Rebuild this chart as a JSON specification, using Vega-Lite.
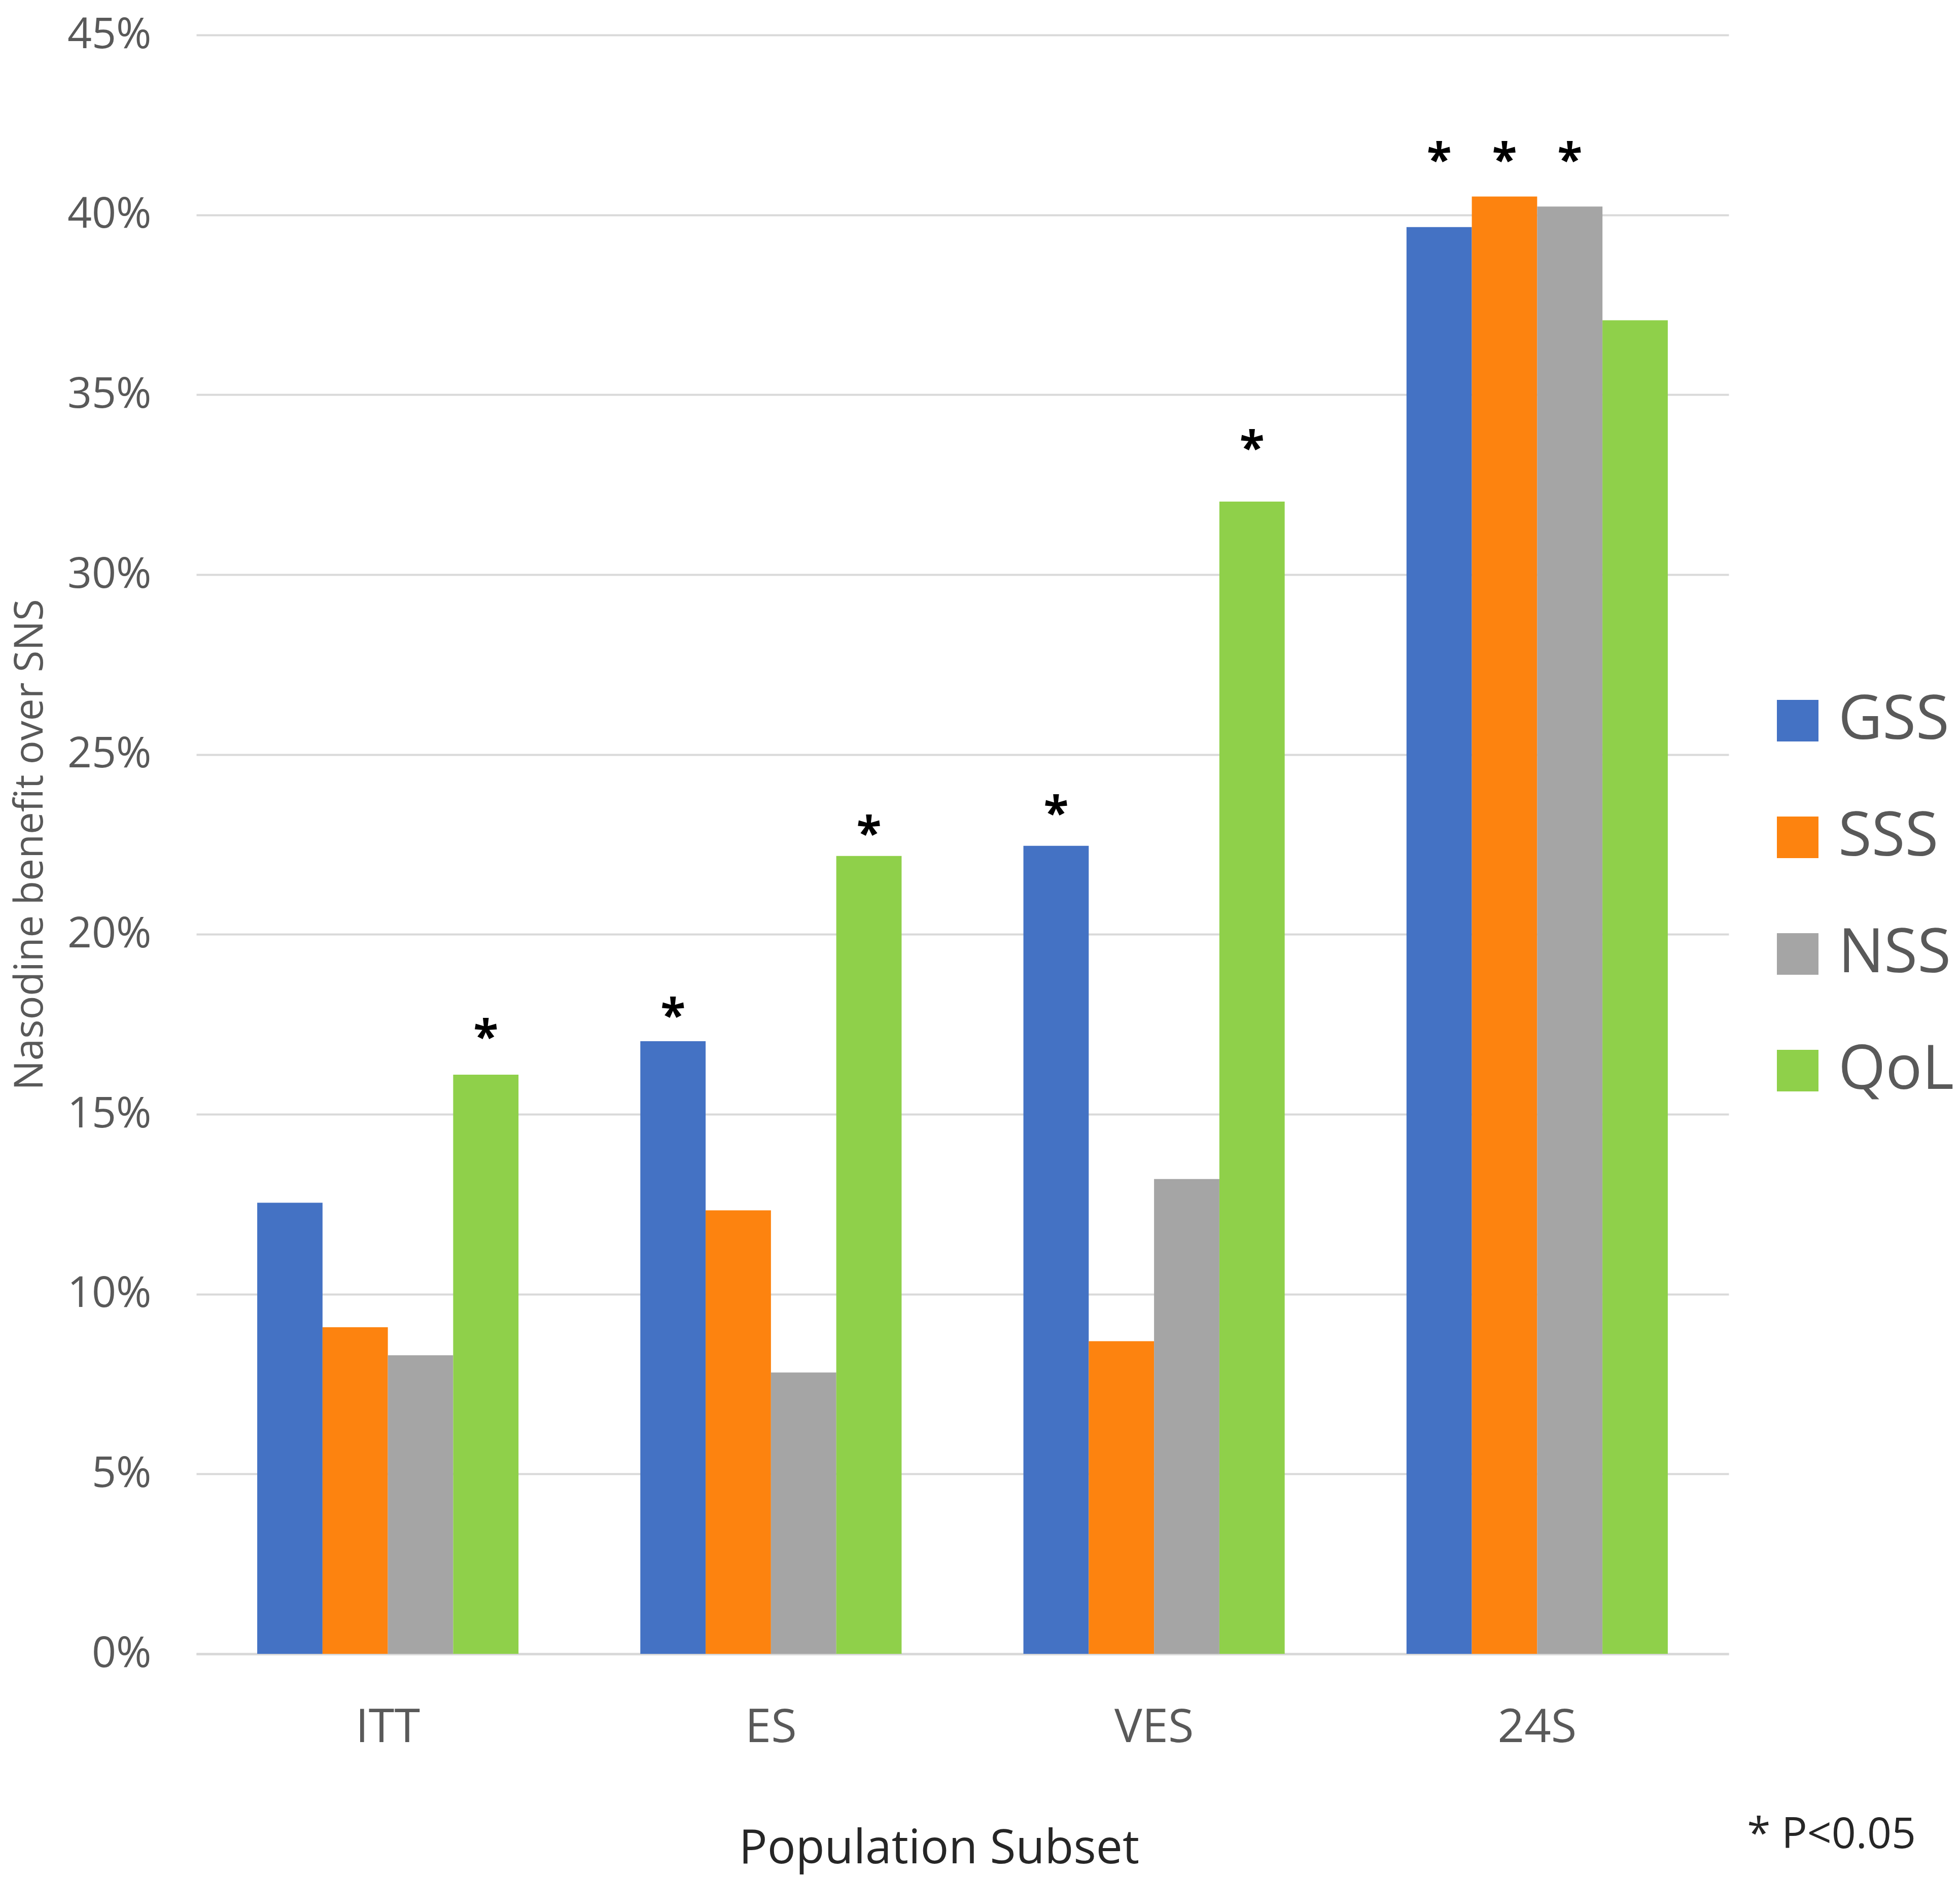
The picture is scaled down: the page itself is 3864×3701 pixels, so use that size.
{
  "$schema": "https://vega.github.io/schema/vega-lite/v6.json",
  "autosize": "none",
  "width": 3021,
  "height": 3192,
  "padding": {"left": 387, "top": 69, "right": 456, "bottom": 440},
  "background": "white",
  "title": {
    "text": "* P<0.05",
    "orient": "bottom",
    "anchor": "end",
    "frame": "group",
    "font": "Open Sans",
    "fontSize": 84,
    "fontWeight": "normal",
    "color": "#262626",
    "dx": 369,
    "offset": -114
  },
  "data": {
    "values": [
      {"subset": "ITT", "measure": "GSS", "benefit": 0.1254, "sig": "", "star_y": null},
      {"subset": "ITT", "measure": "SSS", "benefit": 0.0908, "sig": "", "star_y": null},
      {"subset": "ITT", "measure": "NSS", "benefit": 0.0830, "sig": "", "star_y": null},
      {"subset": "ITT", "measure": "QoL", "benefit": 0.1610, "sig": "*", "star_y": 0.1731},
      {"subset": "ES", "measure": "GSS", "benefit": 0.1703, "sig": "*", "star_y": 0.1791},
      {"subset": "ES", "measure": "SSS", "benefit": 0.1233, "sig": "", "star_y": null},
      {"subset": "ES", "measure": "NSS", "benefit": 0.0782, "sig": "", "star_y": null},
      {"subset": "ES", "measure": "QoL", "benefit": 0.2218, "sig": "*", "star_y": 0.2297},
      {"subset": "VES", "measure": "GSS", "benefit": 0.2246, "sig": "*", "star_y": 0.2353},
      {"subset": "VES", "measure": "SSS", "benefit": 0.0869, "sig": "", "star_y": null},
      {"subset": "VES", "measure": "NSS", "benefit": 0.1320, "sig": "", "star_y": null},
      {"subset": "VES", "measure": "QoL", "benefit": 0.3203, "sig": "*", "star_y": 0.3368},
      {"subset": "24S", "measure": "GSS", "benefit": 0.3966, "sig": "*", "star_y": 0.4168},
      {"subset": "24S", "measure": "SSS", "benefit": 0.4051, "sig": "*", "star_y": 0.4168},
      {"subset": "24S", "measure": "NSS", "benefit": 0.4023, "sig": "*", "star_y": 0.4168},
      {"subset": "24S", "measure": "QoL", "benefit": 0.3707, "sig": "", "star_y": null}
    ]
  },
  "encoding": {
    "x": {
      "field": "subset",
      "type": "nominal",
      "sort": ["ITT", "ES", "VES", "24S"],
      "scale": {"paddingInner": 0.318, "paddingOuter": 0.159},
      "title": "Population Subset",
      "axis": {
        "labelAngle": 0,
        "ticks": false,
        "labelPadding": 100,
        "labelFont": "Open Sans",
        "labelFontSize": 92,
        "labelColor": "#595959",
        "domainColor": "#D9D9D9",
        "domainWidth": 5,
        "titleFont": "Open Sans",
        "titleFontSize": 93,
        "titleFontWeight": "normal",
        "titleColor": "#262626",
        "titleX": 1464,
        "titleY": 384,
        "titleBaseline": "middle"
      }
    },
    "xOffset": {
      "field": "measure",
      "type": "nominal",
      "sort": ["GSS", "SSS", "NSS", "QoL"],
      "scale": {"paddingInner": 0, "paddingOuter": 0}
    }
  },
  "layer": [
    {
      "mark": {"type": "bar"},
      "encoding": {
        "y": {
          "field": "benefit",
          "type": "quantitative",
          "scale": {"domain": [0, 0.45], "nice": false},
          "title": "Nasodine benefit over SNS",
          "axis": {
            "format": ".0%",
            "values": [0, 0.05, 0.1, 0.15, 0.2, 0.25, 0.3, 0.35, 0.4, 0.45],
            "ticks": false,
            "domain": false,
            "grid": true,
            "gridColor": "#D9D9D9",
            "gridWidth": 4,
            "labelPadding": 89,
            "labelFont": "Open Sans",
            "labelFontSize": 84,
            "labelColor": "#595959",
            "titleFont": "Open Sans",
            "titleFontSize": 78,
            "titleFontWeight": "normal",
            "titleColor": "#595959",
            "titleAngle": -90,
            "titleX": -327,
            "titleY": 1596,
            "titleAlign": "center",
            "titleBaseline": "middle"
          }
        },
        "color": {
          "field": "measure",
          "type": "nominal",
          "scale": {
            "domain": ["GSS", "SSS", "NSS", "QoL"],
            "range": ["#4472C4", "#FD830F", "#A5A5A5", "#8FD04A"]
          },
          "legend": {
            "title": null,
            "orient": "none",
            "legendX": 3097,
            "legendY": 1292,
            "symbolType": "square",
            "symbolSize": 6724,
            "symbolStrokeWidth": 0,
            "symbolOpacity": 1,
            "rowPadding": 110,
            "labelOffset": 20,
            "labelLimit": 600,
            "labelFont": "Open Sans",
            "labelFontSize": 120,
            "labelColor": "#595959"
          }
        }
      }
    },
    {
      "transform": [{"filter": "datum.star_y != null"}],
      "mark": {
        "type": "text",
        "font": "Open Sans",
        "fontSize": 90,
        "fontWeight": "bold",
        "color": "#000000",
        "baseline": "alphabetic",
        "dy": 42
      },
      "encoding": {
        "y": {"field": "star_y", "type": "quantitative"},
        "text": {"field": "sig", "type": "nominal"}
      }
    }
  ],
  "config": {
    "view": {"stroke": null}
  }
}
